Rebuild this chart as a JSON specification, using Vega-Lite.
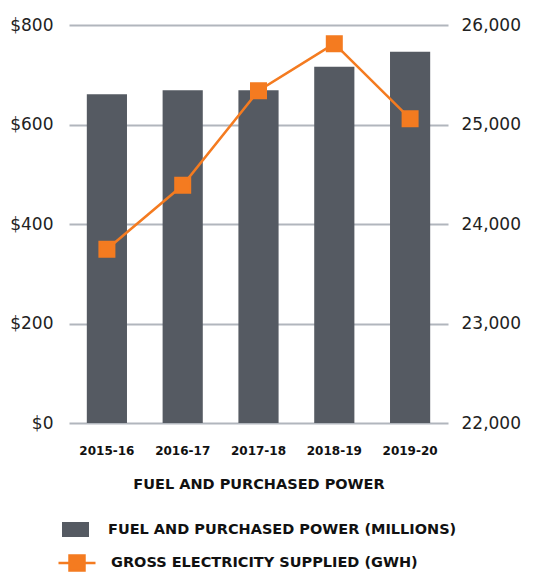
{
  "$schema": "https://vega.github.io/schema/vega-lite/v6.json",
  "width": 379,
  "height": 398,
  "autosize": {"type": "none"},
  "padding": {"left": 69, "top": 25, "right": 104, "bottom": 150},
  "background": "white",
  "config": {
    "view": {"stroke": null},
    "font": "DejaVu Sans",
    "axis": {"domain": false, "ticks": false, "labelFont": "DejaVu Sans", "labelColor": "#222222"}
  },
  "data": {
    "values": [
      {"year": "2015-16", "fuel": 661, "gwh": 23746},
      {"year": "2016-17", "fuel": 669, "gwh": 24389},
      {"year": "2017-18", "fuel": 669, "gwh": 25340},
      {"year": "2018-19", "fuel": 716, "gwh": 25812},
      {"year": "2019-20", "fuel": 746, "gwh": 25058}
    ]
  },
  "encoding": {
    "x": {
      "field": "year",
      "type": "nominal",
      "scale": {"paddingInner": 0.47, "paddingOuter": 0.235},
      "axis": {
        "title": "FUEL AND PURCHASED POWER",
        "titleFont": "DejaVu Sans",
        "titleFontSize": 14.5,
        "titleFontWeight": "bold",
        "titleColor": "#111111",
        "titlePadding": 21,
        "labelAngle": 0,
        "labelFontSize": 12,
        "labelFontWeight": "bold",
        "labelColor": "#111111",
        "labelPadding": 22,
        "grid": false
      }
    }
  },
  "layer": [
    {
      "mark": {"type": "bar"},
      "encoding": {
        "y": {
          "field": "fuel",
          "type": "quantitative",
          "scale": {"domain": [0, 800]},
          "axis": {
            "title": null,
            "values": [0, 200, 400, 600, 800],
            "format": "$,.0f",
            "labelFontSize": 17,
            "labelPadding": 16,
            "grid": true,
            "gridColor": "#b1b6bd",
            "gridWidth": 2
          }
        },
        "color": {
          "datum": "FUEL AND PURCHASED POWER (MILLIONS)",
          "type": "nominal",
          "scale": {"range": ["#555a62"]},
          "legend": {
            "title": null,
            "orient": "none",
            "legendX": -7,
            "legendY": 491,
            "symbolType": "M-1,-0.556H1V0.556H-1Z",
            "symbolSize": 729,
            "symbolStrokeWidth": 0,
            "labelFont": "DejaVu Sans",
            "labelFontSize": 14.5,
            "labelFontWeight": "bold",
            "labelColor": "#111111",
            "labelOffset": 19,
            "labelLimit": 600
          }
        }
      }
    },
    {
      "mark": {
        "type": "line",
        "strokeWidth": 2.5,
        "point": {"shape": "square", "size": 225, "filled": true, "color": "#f47b20", "opacity": 1}
      },
      "encoding": {
        "y": {
          "field": "gwh",
          "type": "quantitative",
          "scale": {"domain": [22000, 26000], "zero": false},
          "axis": {
            "title": null,
            "orient": "right",
            "values": [22000, 23000, 24000, 25000, 26000],
            "format": ",d",
            "labelFontSize": 17,
            "labelPadding": 13,
            "grid": false
          }
        },
        "stroke": {
          "datum": "GROSS ELECTRICITY SUPPLIED (GWH)",
          "type": "nominal",
          "scale": {"range": ["#f47b20"]},
          "legend": {
            "title": null,
            "orient": "none",
            "legendX": -12,
            "legendY": 518,
            "symbolType": "M-1,0H1M-0.405,-0.405H0.405V0.405H-0.405Z",
            "symbolSize": 1369,
            "symbolStrokeWidth": 2.5,
            "symbolFillColor": "#f47b20",
            "labelFont": "DejaVu Sans",
            "labelFontSize": 14.5,
            "labelFontWeight": "bold",
            "labelColor": "#111111",
            "labelOffset": 14,
            "labelLimit": 600,
            "encode": {"symbols": {"update": {"fill": {"value": "#f47b20"}, "stroke": {"value": "#f47b20"}}}}
          }
        }
      }
    }
  ],
  "resolve": {"scale": {"y": "independent", "color": "independent", "stroke": "independent"}}
}
